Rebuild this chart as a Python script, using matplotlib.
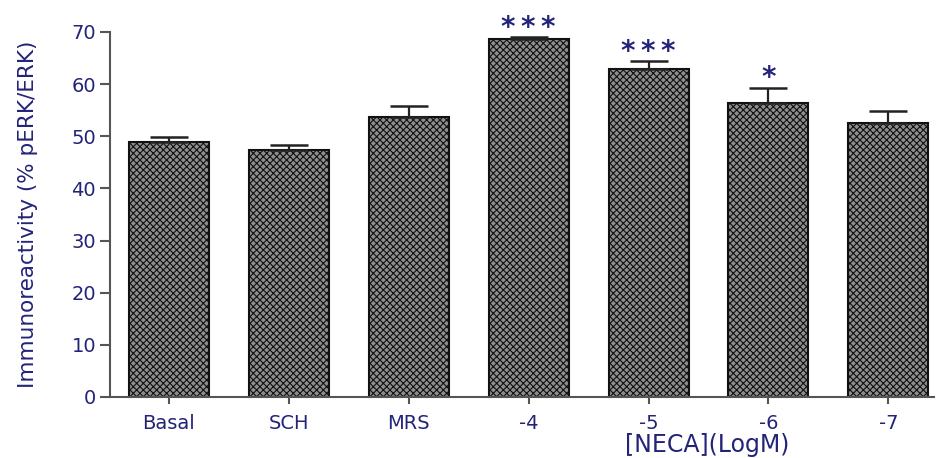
import numpy as np
import matplotlib
matplotlib.use('Agg')
import matplotlib.pyplot as plt

# Data
groups = ['Basal', 'SCH', 'MRS', '-4', '-5', '-6', '-7']
means = [48.9, 47.4, 53.7, 68.6, 62.9, 56.4, 52.6]
sems = [0.9, 1.0, 2.0, 0.4, 1.5, 2.9, 2.3]
stars = ['', '', '', '*\u2009*\u2009*', '*\u2009*\u2009*', '*', '']

navy = '#232379'
plt.rcParams['hatch.linewidth'] = 0.8
plt.rcParams['hatch.color'] = '#1a1a1a'

fig = plt.figure(figsize=(9.37, 4.58), dpi=100)
ax = fig.add_axes([0.1174, 0.1332, 0.8794, 0.7972])

x = np.arange(len(groups))
ax.bar(x, means, width=0.667, color='#8e8e8e', edgecolor='#111111',
       linewidth=1.5, hatch='xxxxx', zorder=2)
ax.errorbar(x, means, yerr=[np.zeros(len(sems)), sems], fmt='none',
            ecolor='#222222', elinewidth=1.6, capsize=14, capthick=1.8, zorder=3)

# significance stars (asterisk glyph sits high, so anchor on the baseline)
for xi, m, s, lab in zip(x, means, sems, stars):
    if lab:
        ax.text(xi, m + s + 0.3, lab, ha='center', va='baseline',
                fontsize=20, fontweight='bold', color=navy)

ax.set_xlim(-0.49, 6.38)
ax.set_ylim(0, 70)
ax.set_yticks(range(0, 71, 10))
ax.set_xticks(x)
ax.set_xticklabels(groups)

for side in ['top', 'right']:
    ax.spines[side].set_visible(False)
for side in ['left', 'bottom']:
    ax.spines[side].set_color('#555555')
    ax.spines[side].set_linewidth(1.5)

ax.tick_params(axis='y', length=7, width=1.5, color='#555555',
               labelsize=14, labelcolor=navy, pad=3)
ax.tick_params(axis='x', length=5, width=1.5, color='#555555',
               labelsize=14, labelcolor=navy, pad=7)

ax.set_ylabel('Immunoreactivity (% pERK/ERK)', fontsize=15.5, color=navy, labelpad=24)
ax.set_xlabel('[NECA](LogM)', fontsize=17, color=navy, va='center')
ax.xaxis.set_label_coords(0.725, -0.132)

plt.savefig('out.png', dpi=100)
